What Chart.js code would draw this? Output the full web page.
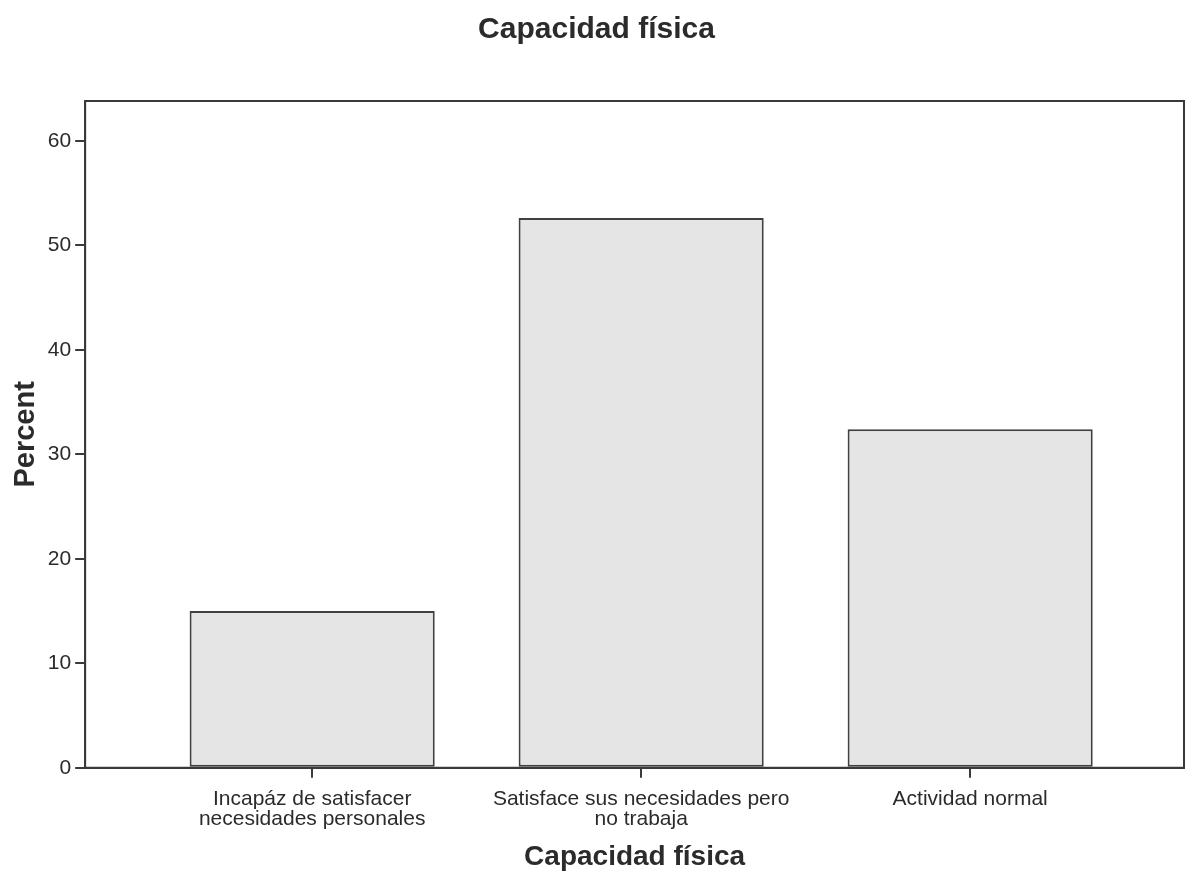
<!DOCTYPE html>
<html>
<head>
<meta charset="utf-8">
<script src="https://cdn.jsdelivr.net/npm/chart.js@4/dist/chart.umd.min.js"></script>
<style>
  body { margin: 0; background: #fff; }
  #wrap { width: 1196px; height: 874px; }
</style>
</head>
<body>
<div id="wrap"><canvas id="chart"></canvas></div>
<script>
// Data
const categories = [
    ['Incapáz de satisfacer', 'necesidades personales'],
    ['Satisface sus necesidades pero', 'no trabaja'],
    ['Actividad normal']
];
const percentValues = [15.0, 52.6, 32.4];
const yTicks = [0, 10, 20, 30, 40, 50, 60];

const textColor = '#2b2b2b';
const font = 'Liberation Sans, Arial, sans-serif';

// draws the box round the plot area, like SPSS does
const frame = {
    id: 'frame',
    afterDraw(chart) {
        const a = chart.chartArea;
        const ctx = chart.ctx;
        ctx.save();
        ctx.strokeStyle = '#3a3a3a';
        ctx.lineWidth = 2;
        ctx.strokeRect(a.left, a.top, a.right - a.left, a.bottom - a.top);
        ctx.restore();
    }
};

const ctx = document.getElementById('chart').getContext('2d');
new Chart(ctx, {
    type: 'bar',
    data: {
        datasets: [{
            label: 'Percent',
            data: percentValues.map((v, i) => ({ x: i, y: v })),
            backgroundColor: '#e5e5e5',
            borderColor: '#404040',
            borderWidth: 2,
            borderSkipped: false,
            categoryPercentage: 1,
            barPercentage: 0.745
        }]
    },
    plugins: [frame],
    options: {
        responsive: true,
        maintainAspectRatio: false,
        animation: false,
        layout: { padding: { left: 9, right: 12, top: 4, bottom: 0 } },
        plugins: {
            legend: { display: false },
            tooltip: { enabled: false },
            title: {
                display: true,
                text: 'Capacidad física',
                color: textColor,
                font: { family: font, size: 30, weight: 'bold' },
                padding: { top: 8, bottom: 53 }
            }
        },
        scales: {
            x: {
                type: 'linear',
                offset: false,
                min: -0.69,
                max: 2.65,
                afterBuildTicks: (axis) => {
                    axis.ticks = categories.map((_, i) => ({ value: i }));
                },
                ticks: {
                    color: textColor,
                    font: { family: font, size: 21, lineHeight: 0.92 },
                    padding: 12,
                    maxRotation: 0,
                    autoSkip: false,
                    callback: (value) => categories[value]
                },
                grid: {
                    offset: false,
                    drawOnChartArea: false,
                    tickLength: 10,
                    color: '#3a3a3a',
                    lineWidth: 2
                },
                border: { color: '#3a3a3a', width: 2 },
                title: {
                    display: true,
                    text: 'Capacidad física',
                    color: textColor,
                    font: { family: font, size: 28, weight: 'bold' },
                    padding: { top: 0, bottom: 0 }
                }
            },
            y: {
                min: 0,
                max: 63.8,
                afterBuildTicks: (axis) => {
                    axis.ticks = yTicks.map(v => ({ value: v }));
                },
                ticks: {
                    color: textColor,
                    font: { family: font, size: 21 },
                    padding: 4
                },
                grid: {
                    drawOnChartArea: false,
                    tickLength: 10,
                    color: '#3a3a3a',
                    lineWidth: 2
                },
                border: { color: '#3a3a3a', width: 2 },
                title: {
                    display: true,
                    text: 'Percent',
                    color: textColor,
                    font: { family: font, size: 29, weight: 'bold' },
                    padding: { top: 0, bottom: 0 }
                }
            }
        }
    }
});
</script>
</body>
</html>
